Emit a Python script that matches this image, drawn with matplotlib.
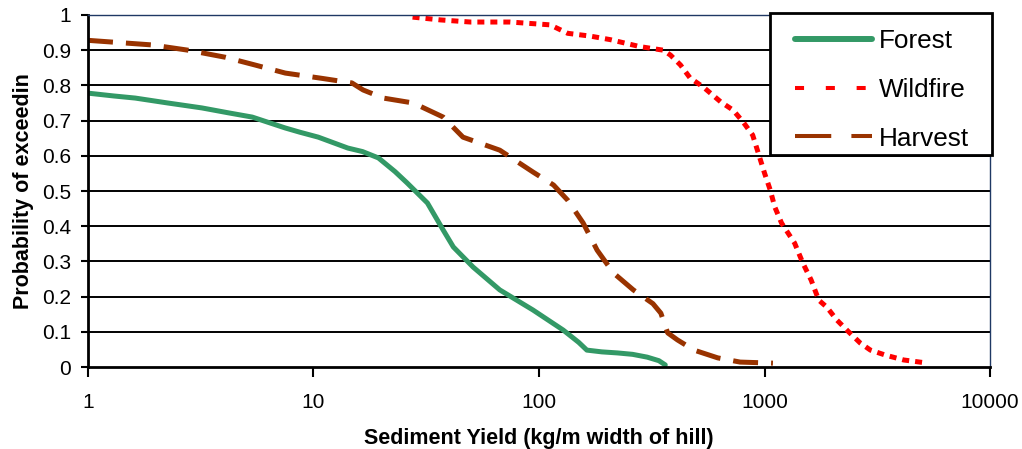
import numpy as np
import matplotlib
matplotlib.use('Agg')
import matplotlib.pyplot as plt
from matplotlib.lines import Line2D
from matplotlib.patches import Rectangle

plt.rcParams['font.family'] = ['Liberation Sans', 'DejaVu Sans']

# values
forest_x = [1.0, 1.3, 1.62, 2.26, 3.2, 4.2, 5.35, 7.5, 8.7, 10.5, 14.2, 16.5, 19.4, 23, 26,
            32, 37.6, 41.7, 51, 67, 94, 128, 150, 163, 190, 223, 260, 302, 340, 363]
forest_y = [0.778, 0.770, 0.764, 0.750, 0.736, 0.722, 0.71, 0.679, 0.667, 0.653, 0.622, 0.612,
            0.594, 0.555, 0.523, 0.466, 0.389, 0.341, 0.284, 0.219, 0.162, 0.105, 0.07, 0.048,
            0.043, 0.040, 0.036, 0.028, 0.018, 0.006]

wildfire_x = [27.5, 36.6, 49.7, 74.5, 112, 134, 169, 207, 281, 356, 383, 424, 468, 536, 640,
              725, 804, 886, 950, 1000, 1060, 1110, 1190, 1360, 1480, 1610, 1740, 1890, 2090,
              2360, 2660, 2950, 3430, 4140, 5300]
wildfire_y = [0.994, 0.986, 0.98, 0.98, 0.972, 0.948, 0.94, 0.93, 0.91, 0.90, 0.886, 0.858,
              0.821, 0.795, 0.753, 0.73, 0.696, 0.659, 0.597, 0.551, 0.503, 0.455, 0.409, 0.352,
              0.295, 0.247, 0.19, 0.17, 0.134, 0.1, 0.068, 0.048, 0.034, 0.02, 0.011]

harvest_x = [1.0, 1.92, 2.78, 4.06, 5.5, 7.5, 10.9, 14.8, 16.6, 20.4, 27.7, 37.6, 46, 67, 94,
             116, 134, 157, 181, 214, 262, 320, 347, 372, 411, 487, 620, 780, 1090]
harvest_y = [0.928, 0.915, 0.90, 0.88, 0.858, 0.835, 0.82, 0.807, 0.787, 0.764, 0.75, 0.71,
             0.653, 0.616, 0.554, 0.517, 0.474, 0.409, 0.332, 0.267, 0.219, 0.18, 0.153, 0.097,
             0.077, 0.048, 0.026, 0.014, 0.011]

series_names = ['Forest', 'Wildfire', 'Harvest']
y_ticks = [0, 0.1, 0.2, 0.3, 0.4, 0.5, 0.6, 0.7, 0.8, 0.9, 1]
y_labels = ['0', '0.1', '0.2', '0.3', '0.4', '0.5', '0.6', '0.7', '0.8', '0.9', '1']
x_ticks = [1, 10, 100, 1000, 10000]
x_labels = ['1', '10', '100', '1000', '10000']

green, red, brown = '#339966', '#FF0000', '#993300'

fig = plt.figure(figsize=(10.22, 4.49), dpi=100)
ax = fig.add_axes([0.0861, 0.1826, 0.8826, 0.784])

ax.plot(forest_x, forest_y, color=green, lw=3.6, solid_capstyle='round')
ax.plot(wildfire_x, wildfire_y, color=red, lw=3.6, ls=(0, (1.4, 1.2)), dash_capstyle='butt')
ax.plot(harvest_x, harvest_y, color=brown, lw=3.6, ls=(0, (5, 2.6)), dash_capstyle='butt')

ax.set_xscale('log')
ax.set_xlim(1, 10000)
ax.set_ylim(0, 1)
ax.set_xticks(x_ticks)
ax.set_xticklabels(x_labels)
ax.xaxis.set_minor_locator(matplotlib.ticker.NullLocator())
ax.set_yticks(y_ticks)
ax.set_yticklabels(y_labels)
ax.tick_params(axis='both', labelsize=15, direction='out', width=1.5, color='black')
ax.tick_params(axis='y', length=5, pad=7)
ax.tick_params(axis='x', length=7, pad=12)

for y in y_ticks[1:-1]:
    ax.axhline(y, color='black', lw=1.4, zorder=0.5)

ax.spines['left'].set_linewidth(2)
ax.spines['bottom'].set_linewidth(2)
ax.spines['top'].set_color('#1F3864')
ax.spines['top'].set_linewidth(1)
ax.spines['right'].set_color('#1F3864')
ax.spines['right'].set_linewidth(1)

ax.set_xlabel('Sediment Yield (kg/m width of hill)', fontsize=15.5, fontweight='bold', labelpad=11)
ax.set_ylabel('Probability of exceedin', fontsize=15.5, fontweight='bold', labelpad=6)

# legend frame drawn by hand, it is wider than the default padding gives
frame = Rectangle((770 / 1022, 1 - 155 / 449), 222 / 1022, 142 / 449, transform=fig.transFigure,
                  facecolor='white', edgecolor='black', lw=2, clip_on=False, zorder=4.8)
ax.add_patch(frame)

handles = [
    Line2D([], [], color=green, lw=4.3, solid_capstyle='round'),
    Line2D([], [], color=red, lw=2.9, ls=(0, (2.25, 5.4)), dash_capstyle='butt'),
    Line2D([], [], color=brown, lw=2.9, ls=(0, (9, 5)), dash_capstyle='butt'),
]
leg = ax.legend(handles, series_names, loc='upper left',
                bbox_to_anchor=(795 / 1022, 1 - 29 / 449), bbox_transform=fig.transFigure,
                borderaxespad=0, borderpad=0, frameon=False, fontsize=18.8,
                handlelength=2.95, labelspacing=0.95, handletextpad=0.25)
leg.set_zorder(5)

fig.savefig('out.png', dpi=100)
